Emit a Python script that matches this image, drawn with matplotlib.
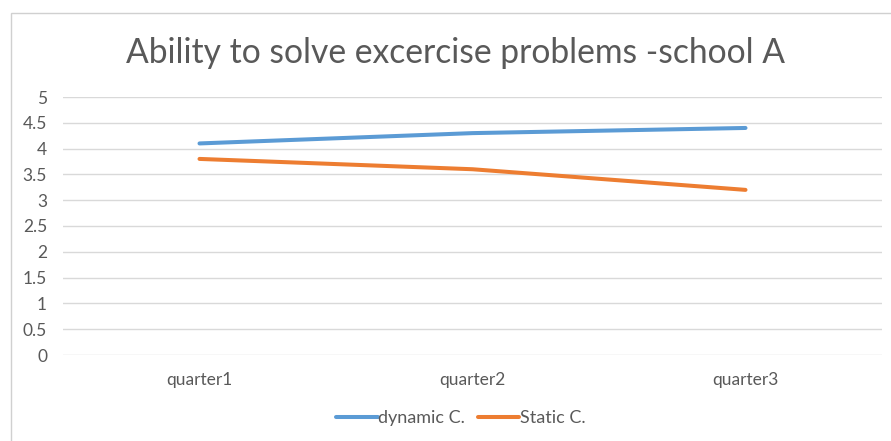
import matplotlib
matplotlib.use("Agg")
import matplotlib.pyplot as plt
from matplotlib.patches import Rectangle

plt.rcParams['font.family'] = ['Lato', 'DejaVu Sans']

categories = ["quarter1", "quarter2", "quarter3"]
dynamic_c = [4.1, 4.3, 4.4]
static_c = [3.8, 3.6, 3.2]
y_ticks = [0, 0.5, 1, 1.5, 2, 2.5, 3, 3.5, 4, 4.5, 5]
y_labels = ["0", "0.5", "1", "1.5", "2", "2.5", "3", "3.5", "4", "4.5", "5"]

text_color = "#595959"
grid_color = "#D9D9D9"

fig = plt.figure(figsize=(8.91, 4.41), dpi=100)
fig.patch.set_facecolor("white")

# chart frame (top and left edges visible)
frame = Rectangle((11 / 891, -0.1), 1.2, 1 - 13 / 441 + 0.1, transform=fig.transFigure,
                  fill=False, edgecolor="#D0D0D0", linewidth=1.0)
fig.patches.append(frame)

ax = fig.add_axes([63 / 891, 1 - 355 / 441, (882 - 63) / 891, (355 - 97) / 441])
x = list(range(len(categories)))
ax.plot(x, dynamic_c, color="#5B9BD5", linewidth=2.9, solid_capstyle="round", label="dynamic C.", zorder=3)
ax.plot(x, static_c, color="#ED7D31", linewidth=2.9, solid_capstyle="round", label="Static C.", zorder=3)

ax.set_xlim(-0.5, len(categories) - 0.5)
ax.set_ylim(0, 5)
ax.set_yticks(y_ticks)
ax.set_yticklabels(y_labels)
ax.set_xticks(x)
ax.set_xticklabels(categories)
ax.grid(axis="y", color=grid_color, linewidth=1.0)
ax.set_axisbelow(True)
for s in ["top", "right", "left", "bottom"]:
    ax.spines[s].set_visible(False)
ax.tick_params(axis="both", length=0, colors=text_color, labelsize=12.5)
ax.tick_params(axis="y", pad=11.5)
ax.tick_params(axis="x", pad=12)
for lbl in ax.get_yticklabels():
    lbl.set_horizontalalignment("right")

fig.text(456 / 891, 1 - 53 / 441, "Ability to solve excercise problems -school A",
         ha="center", va="center", fontsize=24.2, color=text_color)

leg = fig.legend(loc="center", bbox_to_anchor=(461 / 891, 1 - 418 / 441), ncol=2, frameon=False,
                 fontsize=13, handlelength=2.3, handletextpad=0.05, columnspacing=0.7,
                 labelcolor=text_color)

fig.savefig("out.png", dpi=100, facecolor="white")
